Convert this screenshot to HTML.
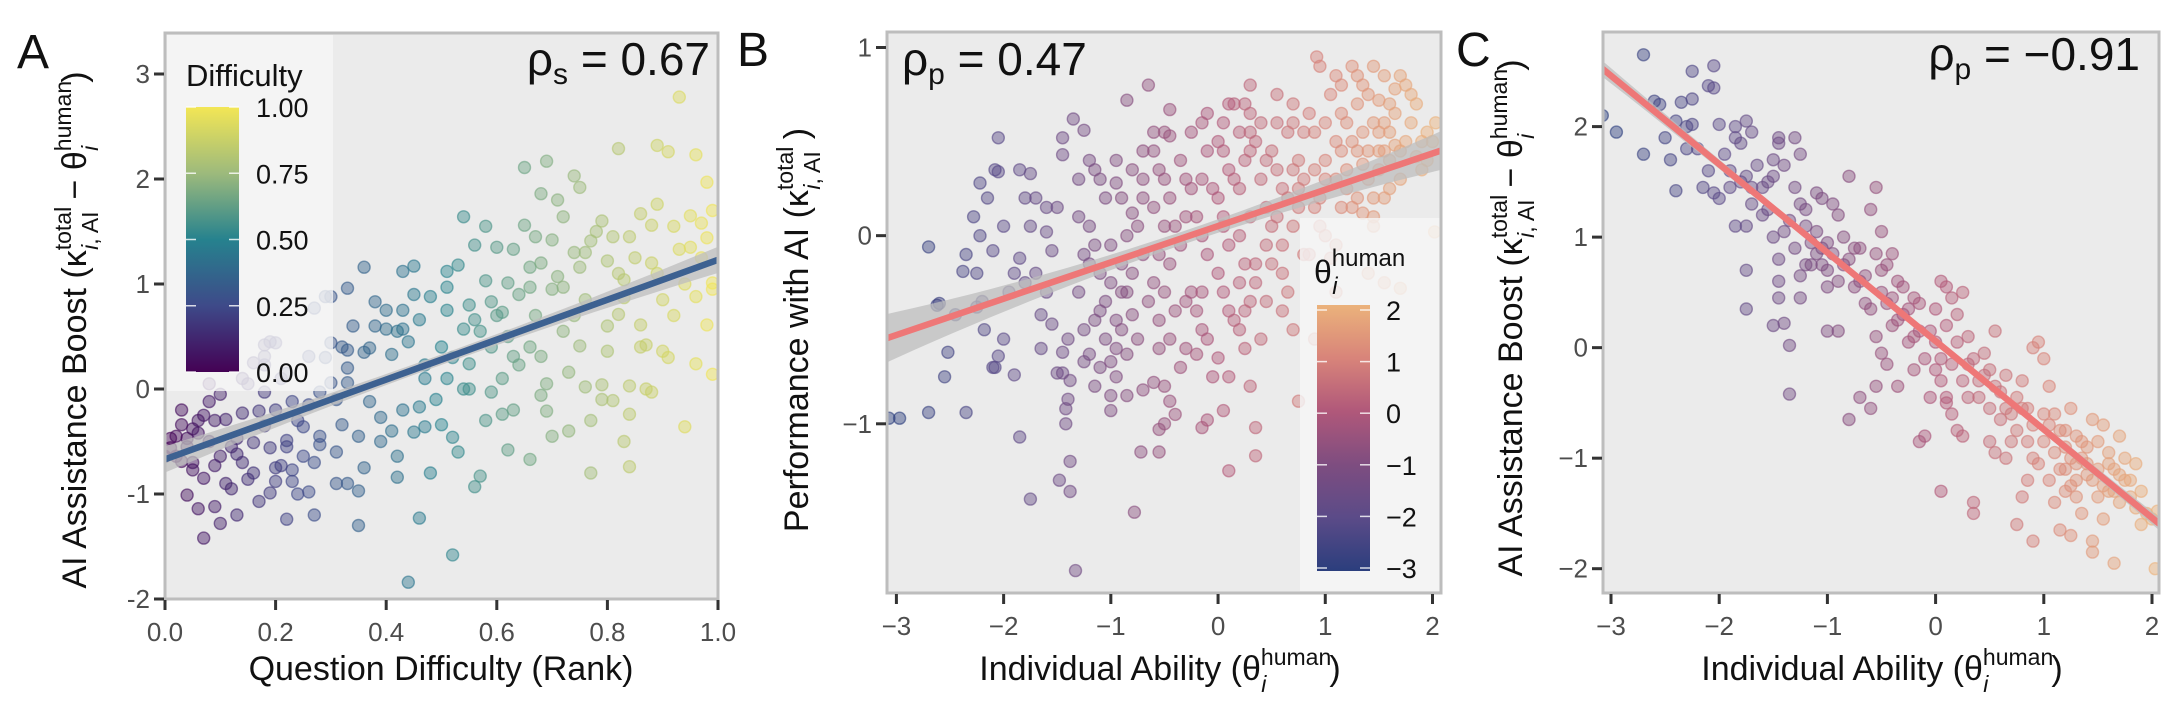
<!DOCTYPE html>
<html><head><meta charset="utf-8"><style>
html,body{margin:0;padding:0;background:#fff;}
svg{display:block;font-family:"Liberation Sans",Arial,sans-serif;}
</style></head><body>
<svg id="fig" width="2182" height="717" viewBox="0 0 2182 717" xmlns="http://www.w3.org/2000/svg">
<defs>
<linearGradient id="gradA" x1="0" y1="1" x2="0" y2="0">
<stop offset="0" stop-color="#440154"/><stop offset="0.25" stop-color="#3e4a89"/><stop offset="0.5" stop-color="#26828e"/><stop offset="0.75" stop-color="#9dba7c"/><stop offset="1" stop-color="#f3e655"/>
</linearGradient>
<linearGradient id="gradB" x1="0" y1="1" x2="0" y2="0">
<stop offset="0" stop-color="#2b3e7d"/><stop offset="0.2" stop-color="#5b4b88"/><stop offset="0.4" stop-color="#7e4d80"/><stop offset="0.6" stop-color="#b0587a"/><stop offset="0.8" stop-color="#d8847a"/><stop offset="1" stop-color="#ebb27b"/>
</linearGradient>
<clipPath id="clipA"><rect x="165" y="33" width="553" height="566"/></clipPath>
<clipPath id="clipB"><rect x="887" y="32" width="554" height="561"/></clipPath>
<clipPath id="clipC"><rect x="1603" y="32" width="556" height="561"/></clipPath>
</defs>
</svg>
<script>
// ---------- DATA ----------
const aDifficulty = [.93,.82,.89,.91,.96,.65,.69,.74,.75,.68,.71,.72,.70,.54,.58,.65,.98,.89,.86,.99,.79,.88,.95,.97,.98,.77,.81,.76,.85,.93,.56,.63,.66,.75,.80,.89,.96,.99,.83,.71,.66,.62,.58,.53,.51,.51,.43,.45,.36,.33,.38,.30,.27,.48,.43,.55,.59,.61,.56,.67,.72,.74,.82,.83,.86,.92,.98,.90,.87,.80,.75,.68,.63,.59,.54,.50,.46,.43,.40,.37,.33,.41,.47,.51,.55,.64,.61,.54,.59,.68,.73,.76,.79,.84,.88,.96,.99,.81,.69,.70,.77,.84,.94,.77,.84,.66,.62,.61,.57,.56,.47,.50,.52,.46,.45,.42,.41,.39,.37,.35,.32,.31,.33,.35,.35,.42,.46,.52,.44,.29,.26,.30,.32,.30,.33,.28,.23,.21,.20,.18,.16,.14,.14,.17,.18,.16,.13,.11,.08,.08,.07,.05,.03,.01,.02,.05,.09,.10,.13,.15,.11,.09,.06,.04,.07,.10,.13,.17,.19,.22,.23,.21,.20,.23,.25,.28,.25,.26,.27,.22,.19,.00,.01,.04,.06,.03,.18,.19,.18,
.02,.04,.06,.08,.05,.07,.12,.14,.16,.18,.20,.22,.24,.26,.28,.31,.33,.36,.38,.40,.42,.44,.47,.49,.52,.55,.57,.60,.62,.64,.66,.68,.70,.72,.74,.76,.78,.80,.82,.84,.86,.88,.90,.92,.94,.95,.97,.99,.91,.87,.83,.79,.73,.69,.63,.58,.53,.48,.43,.39,.36,.31,.27,.24,.20,.12,.09,.03,.10,.15,.22,.29,.34,.45,.51,.60,.67];
const aBoost = [2.78,2.29,2.32,2.26,2.23,2.11,2.17,2.03,1.92,1.86,1.80,1.64,1.42,1.64,1.55,1.56,1.97,1.76,1.67,1.70,1.60,1.56,1.65,1.58,1.44,1.41,1.45,1.30,1.25,1.33,1.37,1.33,1.16,1.16,1.22,1.10,.88,1.01,1.04,1.07,.97,1.01,1.03,1.18,1.12,.97,1.12,1.17,1.16,.96,.83,.88,.77,.88,.75,.80,.83,.73,.66,.70,.97,.70,.71,.87,.61,.70,.61,.36,.42,.36,.41,.31,.31,.40,.57,.40,.66,.57,.57,.39,.37,.33,.23,.10,.24,.23,.10,.00,-.03,-.06,.16,.02,.04,.03,-.03,.24,.14,-.11,-.21,-.45,-.30,-.24,-.36,-.80,-.74,-.67,-.58,-.24,-.83,-.93,-.36,-.34,-.46,-.17,-.41,-.64,-.40,-.27,-.12,-.45,-.34,-.60,-.90,-.97,-1.30,-.84,-1.23,-1.58,-1.84,.88,.31,.44,.40,.06,.06,-.03,-.12,.10,.44,.23,.25,.10,-.23,-.21,-.03,-.51,-.47,-.29,-.12,.05,-.25,-.38,-.34,-.56,-.64,-.77,-.73,-.64,-.62,-.86,-.90,-1.12,-1.14,-1.01,-1.42,-1.28,-1.20,-1.07,-.56,-.49,-.77,-.73,-.88,-.88,-.64,-.53,-.36,-.98,-1.20,-1.24,-.99,-.64,-.47,-.47,-.30,-.69,.42,.45,.31,
-.45,-.55,-.42,-.5,-.7,-.85,-.55,-.7,-.8,-.35,-.2,-.55,-.3,-.15,-.45,-.1,.2,.35,.6,.75,.55,.45,.1,-.1,.3,.0,.55,.7,.5,.9,.4,1.2,.95,.55,1.3,.85,1.5,.6,1.1,1.45,.4,1.2,.85,1.55,1.0,1.35,1.25,.95,.3,.0,-.5,-.1,-.4,.05,-.2,-.3,-.6,-.8,-.2,-.5,-.75,-.9,-.7,-1.0,-.75,-.95,-.3,-.2,-.05,.05,.15,.3,.6,.9,.75,1.35,1.45];
const aFit = [-0.67, 1.23];
const aXTicks = [0, 0.2, 0.4, 0.6, 0.8, 1.0];
const aXTickLabels = ["0.0","0.2","0.4","0.6","0.8","1.0"];
const aYTicks = [-2,-1,0,1,2,3];
const aYTickLabels = ["-2","-1","0","1","2","3"];
const aLegendTicks = [0,0.25,0.5,0.75,1];
const aLegendLabels = ["0.00","0.25","0.50","0.75","1.00"];

const bAbility = [-3.07,-2.97,-2.7,-2.35,-2.7,-2.6,-2.62,-2.45,-2.52,-2.55,-2.38,-2.35,-2.28,-2.22,-2.22,-2.15,-2.05,-2.08,-2.05,-2.0,-2.1,-2.25,-2.2,-2.25,-2.18,-2.05,-2.08,-2.1,-2.0,-1.9,-1.85,-1.75,-1.9,-1.85,-1.8,-1.7,-1.6,-1.55,-1.65,-1.75,-1.8,-1.85,-1.75,-1.7,-1.6,-1.55,-1.5,-1.45,-1.45,-1.35,-1.4,-1.45,-1.5,-1.45,-1.38,-1.4,-1.42,-1.42,-1.38,-1.38,-1.48,-1.33,-1.3,-1.25,-1.2,-1.15,-1.3,-1.25,-1.2,-1.1,-1.05,-1.15,-1.1,-1.05,-1.0,-0.95,-1.05,-1.15,-1.2,-1.25,-1.1,-1.0,-1.0,-0.95,-1.0,-0.85,-0.9,-0.8,-0.85,-0.9,-0.85,-0.8,-0.9,-0.95,-0.8,-0.7,-0.6,-0.5,-0.45,-0.65,-0.85,-0.45,-0.7,-0.6,-0.55,-0.5,-0.7,-0.6,-0.55,-0.5,-0.45,-0.4,-0.35,-0.3,-0.25,-0.2,-0.15,-0.1,-0.25,-0.3,-0.4,-0.45,-0.55,-0.6,-0.7,-0.5,-0.45,-0.5,-0.55,-0.72,-0.55,-0.78,-0.3,-0.2,-0.15,-0.1,-0.15,-0.1,-0.15,-0.1,-0.15,-0.1,0.0,0.05,0.1,0.0,0.05,0.1,0.0,0.05,0.1,0.15,0.0,0.1,0.05,0.1,0.2,0.25,0.3,0.25,0.2,0.3,0.2,0.25,0.2,0.15,0.25,0.3,0.3,0.35,0.4,0.45,0.5,0.45,0.35,0.4,0.3,0.35,0.35,0.5,0.55,0.6,0.55,0.6,0.65,0.6,0.7,0.65,0.7,0.75,0.8,0.8,0.75,0.7,0.75,0.9,0.95,1.0,0.9,1.0,1.05,1.1,0.95,0.92,0.85,0.75,0.9,1.1,1.15,1.2,1.25,1.3,1.35,1.4,1.45,1.5,1.55,1.6,1.65,1.7,1.75,1.85,1.9,1.95,2.03,2.0,1.2,1.3,1.35,1.4,1.5,1.6,1.65,1.75,1.8,1.7,1.25,1.3,1.5,1.55,1.15,1.25,1.35,1.45,1.55,1.6,1.45,1.1,1.0,0.95,1.05,1.4,1.55,1.7,2.02,1.1,
-1.2,-1.1,-1.0,-0.9,-0.8,-0.75,-0.65,-0.55,-0.45,-0.35,-0.3,-0.2,-0.05,0.05,0.15,0.2,0.3,0.4,0.45,0.5,0.55,0.65,0.7,0.8,0.85,0.9,1.0,1.1,1.15,1.2,1.3,1.35,1.4,1.45,1.5,1.6,1.65,1.7,1.8,1.85,1.9,1.95,1.55,1.45,1.15,0.55,0.3,0.1,-0.25,-0.6,-0.95,-1.3,-1.6,-1.95,-1.65,-1.25,-0.95,-0.75,-0.35,-0.05,0.25,0.45,0.6,-1.15,-0.85,-0.4,-0.7,-0.15,0.35,0.7,0.05,-0.5];
const bPerformance = [-0.97,-0.97,-0.94,-0.94,-0.06,-0.36,-0.37,-0.42,-0.62,-0.75,-0.19,-0.1,0.1,0.0,0.28,0.2,0.34,0.35,0.52,0.05,-0.08,-0.2,-0.35,-0.38,-0.5,-0.64,-0.7,-0.7,-0.55,-0.74,-1.07,-1.4,-0.2,-0.12,-0.25,-0.2,-0.3,-0.47,-0.42,0.05,0.2,0.35,0.33,0.2,0.02,-0.08,0.15,0.52,0.43,0.62,-0.55,-0.62,-0.73,-0.73,-0.77,-0.87,-0.92,-1.0,-1.2,-1.36,-1.3,-1.78,-0.3,-0.1,0.05,0.35,0.1,0.56,0.4,0.3,0.2,-0.05,-0.2,-0.35,-0.25,-0.45,-0.55,-0.45,-0.63,-0.67,-0.7,-0.67,-0.85,-0.75,-0.93,-0.63,-0.5,-0.42,-0.3,-0.15,0.0,0.12,0.2,0.28,0.35,0.45,0.55,0.55,0.53,0.8,0.72,0.67,0.3,0.15,0.35,0.3,-0.1,-0.25,-0.1,-0.3,-0.15,0.05,0.4,0.3,0.25,0.1,0.0,-0.1,-0.3,-0.35,-0.4,-0.55,-0.6,-0.78,-0.82,-0.8,-0.88,-1.0,-1.03,-1.15,-1.15,-1.47,-0.6,-0.63,-0.5,-0.55,-1.02,-0.98,0.3,0.45,0.6,0.65,0.5,0.45,0.35,0.2,0.1,-0.05,-0.2,-0.3,-0.4,-0.45,-0.65,-0.75,-0.93,-1.25,-0.5,-0.4,-0.35,-0.15,0.0,0.1,0.25,0.4,0.55,0.7,0.7,0.65,0.8,0.5,0.3,0.15,0.05,-0.05,-0.25,-0.55,-0.8,-1.02,-1.17,0.45,0.35,0.25,0.1,-0.05,-0.3,-0.4,-0.5,0.55,0.6,0.4,0.3,-0.1,0.15,0.7,0.25,0.35,0.2,0.4,0.55,0.6,0.75,0.85,0.9,0.95,-0.1,-0.88,-0.55,0.3,0.45,0.35,0.5,0.45,0.38,0.3,0.2,0.35,0.45,0.55,0.48,0.45,0.5,0.42,0.35,0.55,0.6,0.5,0.6,0.7,0.8,0.75,0.72,0.7,0.78,0.8,0.75,0.85,0.9,0.85,0.55,0.6,0.15,0.15,0.12,0.1,0.2,0.25,0.05,-0.05,0.0,0.05,-0.12,-0.2,-0.25,-0.28,0.02,-0.3,
-0.15,-0.4,-0.05,-0.3,-0.2,0.05,-0.35,-0.45,0.2,-0.05,0.1,-0.4,0.25,0.6,0.3,-0.25,0.45,0.6,0.4,-0.15,0.6,0.2,0.35,0.55,0.65,0.15,0.3,0.5,0.65,0.25,0.2,0.55,0.45,0.6,0.45,0.4,0.65,0.3,0.6,0.7,0.5,0.4,0.85,0.9,0.8,0.75,0.55,0.7,0.55,0.45,0.4,0.3,0.15,-0.3,-0.6,-0.5,-0.6,-0.55,-0.7,-0.75,-0.6,-0.35,-0.2,-0.8,-0.85,-0.95,0.2,-0.3,-0.15,0.05,0.05,0.05];
const bFit = [0.051, 0.193];
const bXTicks = [-3,-2,-1,0,1,2];
const bXTickLabels = ["\u22123","\u22122","\u22121","0","1","2"];
const bYTicks = [-1,0,1];
const bYTickLabels = ["\u22121","0","1"];
const bLegendTicks = [-3,-2,-1,0,1,2];
const bLegendLabels = ["\u22123","\u22122","\u22121","0","1","2"];

const cAbility = [-2.7,-3.08,-2.95,-2.7,-2.6,-2.55,-2.5,-2.45,-2.4,-2.4,-2.35,-2.3,-2.25,-2.25,-2.25,-2.2,-2.15,-2.1,-2.05,-2.05,-2.0,-2.05,-2.0,-1.9,-1.85,-1.85,-1.8,-1.75,-1.7,-1.75,-1.7,-1.7,-1.75,-1.85,-1.75,-1.75,-1.6,-1.55,-1.5,-1.5,-1.5,-1.45,-1.45,-1.4,-1.4,-1.45,-1.45,-1.45,-1.5,-1.4,-1.35,-1.35,-1.3,-1.25,-1.3,-1.25,-1.2,-1.15,-1.2,-1.25,-1.1,-1.05,-1.1,-1.05,-1.0,-1.0,-0.95,-0.9,-0.85,-0.8,-0.75,-0.7,-0.65,-0.6,-0.55,-0.55,-0.5,-0.5,-0.45,-0.4,-0.4,-0.35,-0.3,-0.25,-0.5,-0.55,-0.6,-0.7,-0.8,-0.9,-1.0,-0.45,-0.35,-0.2,-0.2,-0.15,-0.1,-0.05,-0.1,-0.15,0.0,0.05,0.1,0.15,0.2,0.25,0.3,0.0,0.05,0.1,0.15,0.2,0.25,0.3,0.35,0.4,0.45,0.5,0.55,0.6,0.65,0.55,0.65,0.35,0.35,0.7,0.75,0.8,0.85,0.9,0.95,1.0,1.05,1.0,0.9,0.85,0.8,0.95,0.75,0.05,0.9,1.1,1.15,1.2,1.25,1.3,1.35,1.4,1.45,1.5,1.55,1.6,1.65,1.7,1.75,1.8,1.85,1.2,1.25,1.3,1.35,1.45,1.5,1.55,1.6,1.7,1.75,1.85,1.95,2.05,2.0,1.15,1.25,1.45,1.45,1.65,2.03,1.1,1.05,1.9,1.4,1.3,1.2,
-2.3,-2.1,-1.95,-1.9,-1.8,-1.65,-1.6,-1.55,-1.35,-1.3,-1.2,-1.15,-1.1,-1.05,-1.0,-0.95,-0.9,-0.85,-0.8,-0.75,-0.7,-0.65,-0.6,-0.5,-0.45,-0.4,-0.35,-0.3,-0.25,-0.2,-0.15,-0.05,0.0,0.05,0.1,0.15,0.2,0.25,0.3,0.4,0.45,0.5,0.55,0.6,0.65,0.7,0.75,0.8,0.85,0.9,1.0,1.05,1.1,1.15,1.2,1.25,1.3,1.35,1.4,1.5,1.55,1.6,1.65,1.7,1.8,1.9,-1.25,-0.55,0.1,0.5];
const cBoost = [2.65,2.1,1.95,1.75,2.23,2.2,1.9,1.7,1.42,2.05,2.22,2.0,2.5,2.25,2.02,1.8,1.45,2.37,2.55,2.35,2.02,1.4,1.35,1.6,2.0,1.9,1.85,2.05,1.95,1.55,1.45,1.3,1.1,1.1,0.7,0.35,1.45,1.25,1.7,1.55,1.0,1.9,1.85,1.65,1.05,0.8,0.6,0.45,0.2,0.22,0.02,-0.42,1.9,1.75,1.45,1.3,1.1,0.95,0.75,0.65,1.4,1.35,0.85,0.75,0.55,0.95,1.3,1.2,1.0,1.55,0.9,0.6,0.4,1.25,1.45,0.85,1.05,0.7,0.4,0.2,0.85,0.6,0.3,0.05,-0.05,-0.35,-0.55,-0.45,-0.65,0.15,0.15,-0.15,-0.35,-0.2,0.45,0.15,-0.1,-0.45,-0.8,-0.85,0.35,0.6,0.55,0.45,0.3,0.5,0.1,-0.2,-0.3,-0.5,-0.6,-0.75,-0.8,-0.45,-0.1,-0.3,-0.05,-0.2,0.15,-0.4,-0.55,-0.95,-1.0,-1.5,-1.4,-0.85,-0.45,-0.3,-0.55,0.0,0.05,-0.1,-0.35,-0.6,-1.0,-1.2,-1.35,-1.05,-1.6,-1.3,-1.75,-0.6,-0.75,-0.9,-0.55,-0.8,-1.0,-0.9,-0.65,-0.85,-0.7,-0.95,-1.1,-0.8,-1.0,-1.2,-1.05,-1.1,-1.25,-1.35,-1.5,-1.2,-1.35,-1.55,-1.3,-1.4,-1.2,-1.45,-1.5,-1.48,-1.55,-1.65,-1.7,-1.75,-1.85,-1.95,-2.0,-1.4,-1.2,-1.3,-1.15,-1.05,-1.3,
1.8,1.6,1.75,1.45,1.5,1.65,1.2,1.5,1.15,0.9,1.25,0.75,1.05,0.9,0.7,0.85,0.6,0.75,0.8,0.55,0.9,0.65,0.35,0.5,0.75,0.45,0.25,0.55,0.35,0.1,0.4,0.15,0.05,-0.1,0.2,-0.15,0.05,-0.3,-0.15,-0.45,-0.25,-0.55,-0.35,-0.65,-0.25,-0.6,-0.75,-0.55,-0.85,-0.7,-0.85,-0.7,-0.95,-1.1,-0.75,-1.0,-1.2,-0.85,-1.05,-1.1,-1.25,-1.05,-1.3,-1.15,-1.35,-1.6,0.45,0.1,-0.45,-0.85];
const cFit = [0.06, -0.80];
const cXTicks = [-3,-2,-1,0,1,2];
const cXTickLabels = ["\u22123","\u22122","\u22121","0","1","2"];
const cYTicks = [-2,-1,0,1,2];
const cYTickLabels = ["\u22122","\u22121","0","1","2"];

// ---------- HELPERS ----------
const NS = "http://www.w3.org/2000/svg";
const svg = document.getElementById("fig");
function mk(tag, attrs, parent) {
  const e = document.createElementNS(NS, tag);
  for (const k in attrs) e.setAttribute(k, attrs[k]);
  (parent || svg).appendChild(e);
  return e;
}
function hex(c){return [parseInt(c.slice(1,3),16),parseInt(c.slice(3,5),16),parseInt(c.slice(5,7),16)];}
function interp(stops, t) {
  t = Math.max(0, Math.min(1, t));
  for (let i = 0; i < stops.length - 1; i++) {
    const a = stops[i], b = stops[i+1];
    if (t <= b[0]) {
      const f = (t - a[0]) / (b[0] - a[0]);
      const ca = hex(a[1]), cb = hex(b[1]);
      return "rgb(" + ca.map((v,j)=>Math.round(v+(cb[j]-v)*f)).join(",") + ")";
    }
  }
  return stops[stops.length-1][1];
}
const viridis = [[0,"#440154"],[0.25,"#3e4a89"],[0.5,"#26828e"],[0.75,"#9dba7c"],[1,"#f3e655"]];
const plasma = [[0,"#2b3e7d"],[0.2,"#5b4b88"],[0.4,"#7e4d80"],[0.6,"#b0587a"],[0.8,"#d8847a"],[1,"#ebb27b"]];

function lin(d0, d1, r0, r1) { return v => r0 + (v - d0) / (d1 - d0) * (r1 - r0); }

function panelFrame(p, name) {
  const bg = mk("rect", {x:p.x0, y:p.y0, width:p.x1-p.x0, height:p.y1-p.y0, fill:"#ebebeb"});
  
  
}
function panelBorder(p, name) {
  const b = mk("rect", {x:p.x0, y:p.y0, width:p.x1-p.x0, height:p.y1-p.y0, fill:"none", stroke:"#bdbdbd", "stroke-width":3});
  
  
}
function axes(p, name, xt, xl, yt, yl) {
  const gx = mk("g", {});
  
  
  xt.forEach((v,i) => {
    const X = p.sx(v);
    mk("line", {x1:X, x2:X, y1:p.y1+1, y2:p.y1+11, stroke:"#333", "stroke-width":3}, gx);
    const t = mk("text", {x:X, y:p.y1+42, "text-anchor":"middle", "font-size":26, fill:"#4d4d4d"}, gx);
    t.textContent = xl[i];
    
    
  });
  const gy = mk("g", {});
  
  
  yt.forEach((v,i) => {
    const Y = p.sy(v);
    mk("line", {x1:p.x0-11, x2:p.x0-1, y1:Y, y2:Y, stroke:"#333", "stroke-width":3}, gy);
    const t = mk("text", {x:p.x0-15, y:Y+9, "text-anchor":"end", "font-size":26, fill:"#4d4d4d"}, gy);
    t.textContent = yl[i];
    
    
  });
}
function points(p, name, xs, ys, colorFn) {
  const g = mk("g", {"clip-path":"url(#" + p.clip + ")"});
  
  
  for (let i = 0; i < xs.length; i++) {
    const c = colorFn(xs[i]);
    const pt = mk("circle", {cx:p.sx(xs[i]).toFixed(1), cy:p.sy(ys[i]).toFixed(1), r:6, fill:c, "fill-opacity":0.45, stroke:c, "stroke-opacity":0.6, "stroke-width":1.4}, g);
    
    
  }
}
function fitLine(p, name, f, color, xa, xb, hw0, hwk, xm) {
  const g = mk("g", {"clip-path":"url(#" + p.clip + ")"});
  
  
  const n = 30, up = [], lo = [];
  for (let i = 0; i <= n; i++) {
    const x = xa + (xb - xa) * i / n, y = f(x), hw = hw0 + hwk * (x - xm) * (x - xm);
    up.push(p.sx(x).toFixed(1) + "," + p.sy(y + hw).toFixed(1));
    lo.unshift(p.sx(x).toFixed(1) + "," + p.sy(y - hw).toFixed(1));
  }
  const band = mk("polygon", {points: up.concat(lo).join(" "), fill:"#bdbdbd", "fill-opacity":0.75}, g);
  
  
  const ln = mk("line", {x1:p.sx(xa), y1:p.sy(f(xa)), x2:p.sx(xb), y2:p.sy(f(xb)), stroke:color, "stroke-width":6.5}, g);
  
  
}
function addText(x, y, size, anchor, html, dname, extra) {
  const t = mk("text", Object.assign({x:x, y:y, "font-size":size, "text-anchor":anchor, fill:"#111"}, extra||{}));
  t.innerHTML = html;
  
  
  return t;
}
const KAPPA = 'κ<tspan font-size="23" dy="-15">total</tspan><tspan font-size="23" dx="-43" dy="27" font-style="italic">i</tspan><tspan font-size="23">, AI</tspan><tspan dx="12" dy="-12">';
const THETA = 'θ<tspan font-size="23" dy="-15">human</tspan><tspan font-size="23" dx="-70" dy="27" font-style="italic">i</tspan><tspan dx="63" dy="-12">)</tspan>';

// ---------- PANEL A ----------
const pA = {x0:165, x1:718, y0:33, y1:599, clip:"clipA"};
pA.sx = lin(0, 1, 165, 718);
pA.sy = lin(-2, 3, 599, 74);
panelFrame(pA, "panel-a");
points(pA, "panel-a", aDifficulty, aBoost, v => interp(viridis, v));
fitLine(pA, "panel-a", x => aFit[0] + (aFit[1]-aFit[0]) * x, "#3d6191", -0.02, 1.02, 0.05, 0.3, 0.5);
const legA = mk("g", {});


mk("rect", {x:167, y:35, width:166, height:356, fill:"#f5f5f5", "fill-opacity":0.82}, legA);
const tA = mk("text", {x:186, y:86, "font-size":31, fill:"#111"}, legA); tA.textContent = "Difficulty";


const cbA = mk("rect", {x:186, y:107, width:53, height:265, fill:"url(#gradA)"}, legA);


const lyA = lin(0, 1, 372, 107);
aLegendTicks.forEach((v,i) => {
  const Y = lyA(v);
  mk("line", {x1:186, x2:196, y1:Y, y2:Y, stroke:"#fff", "stroke-width":1.5, "stroke-opacity":0.8}, legA);
  mk("line", {x1:229, x2:239, y1:Y, y2:Y, stroke:"#fff", "stroke-width":1.5, "stroke-opacity":0.8}, legA);
  const t = mk("text", {x:256, y:Y+10, "font-size":27, fill:"#111"}, legA); t.textContent = aLegendLabels[i];
  
  
});
panelBorder(pA, "panel-a");
axes(pA, "panel-a", aXTicks, aXTickLabels, aYTicks, aYTickLabels);
addText(710, 75, 46, "end", 'ρ<tspan font-size="30" dy="9">s</tspan><tspan dy="-9"> = 0.67</tspan>', "panel-a-correlation");
addText(17, 68, 48, "start", "A", "panel-a-letter");
addText(441, 680, 34, "middle", "Question Difficulty (Rank)", "panel-a-x-axis-title");
addText(0, 0, 34, "middle", 'AI Assistance Boost (' + KAPPA + '− ' + THETA + '</tspan>', "panel-a-y-axis-title", {transform:"translate(86,330) rotate(-90)"});

// ---------- PANEL B ----------
const pB = {x0:887, x1:1441, y0:32, y1:593, clip:"clipB"};
pB.sx = lin(-3, 2, 896.4, 1432.5);
pB.sy = lin(-1, 1, 423.8, 47.5);
panelFrame(pB, "panel-b");
points(pB, "panel-b", bAbility, bPerformance, v => interp(plasma, (v + 3) / 5));
fitLine(pB, "panel-b", x => bFit[0] + bFit[1] * x, "#ee7777", -3.2, 2.2, 0.035, 0.012, -0.3);
const legB = mk("g", {});


mk("rect", {x:1300, y:218, width:140, height:373, fill:"#f5f5f5", "fill-opacity":0.82}, legB);
const tB = mk("text", {x:1314, y:283, "font-size":32, fill:"#111"}, legB);
tB.innerHTML = 'θ<tspan font-size="24" dy="-17">human</tspan><tspan font-size="24" dx="-73" dy="28" font-style="italic">i</tspan>';


const cbB = mk("rect", {x:1317, y:305, width:53, height:266, fill:"url(#gradB)"}, legB);


const lyB = lin(-3, 2, 568, 310);
bLegendTicks.forEach((v,i) => {
  const Y = lyB(v);
  mk("line", {x1:1317, x2:1327, y1:Y, y2:Y, stroke:"#fff", "stroke-width":1.5, "stroke-opacity":0.8}, legB);
  mk("line", {x1:1360, x2:1370, y1:Y, y2:Y, stroke:"#fff", "stroke-width":1.5, "stroke-opacity":0.8}, legB);
  const t = mk("text", {x:1386, y:Y+10, "font-size":27, fill:"#111"}, legB); t.textContent = bLegendLabels[i];
  
  
});
panelBorder(pB, "panel-b");
axes(pB, "panel-b", bXTicks, bXTickLabels, bYTicks, bYTickLabels);
addText(902, 75, 46, "start", 'ρ<tspan font-size="30" dy="9">p</tspan><tspan dy="-9"> = 0.47</tspan>', "panel-b-correlation");
addText(737, 66, 48, "start", "B", "panel-b-letter");
addText(1160, 680, 34, "middle", 'Individual Ability (' + THETA, "panel-b-x-axis-title");
addText(0, 0, 34, "middle", 'Performance with AI (' + KAPPA + ')</tspan>', "panel-b-y-axis-title", {transform:"translate(808,330) rotate(-90)"});

// ---------- PANEL C ----------
const pC = {x0:1603, x1:2159, y0:32, y1:593, clip:"clipC"};
pC.sx = lin(-3, 2, 1611, 2152);
pC.sy = lin(-2, 2, 568.7, 126.6);
panelFrame(pC, "panel-c");
points(pC, "panel-c", cAbility, cBoost, v => interp(plasma, (v + 3) / 5));
fitLine(pC, "panel-c", x => cFit[0] + cFit[1] * x, "#ee7777", -3.2, 2.2, 0.025, 0.006, -0.3);
panelBorder(pC, "panel-c");
axes(pC, "panel-c", cXTicks, cXTickLabels, cYTicks, cYTickLabels);
addText(2140, 70, 46, "end", 'ρ<tspan font-size="30" dy="9">p</tspan><tspan dy="-9"> = −0.91</tspan>', "panel-c-correlation");
addText(1456, 66, 48, "start", "C", "panel-c-letter");
addText(1882, 680, 34, "middle", 'Individual Ability (' + THETA, "panel-c-x-axis-title");
addText(0, 0, 34, "middle", 'AI Assistance Boost (' + KAPPA + '− ' + THETA + '</tspan>', "panel-c-y-axis-title", {transform:"translate(1522,318) rotate(-90)"});
</script>
</body></html>
